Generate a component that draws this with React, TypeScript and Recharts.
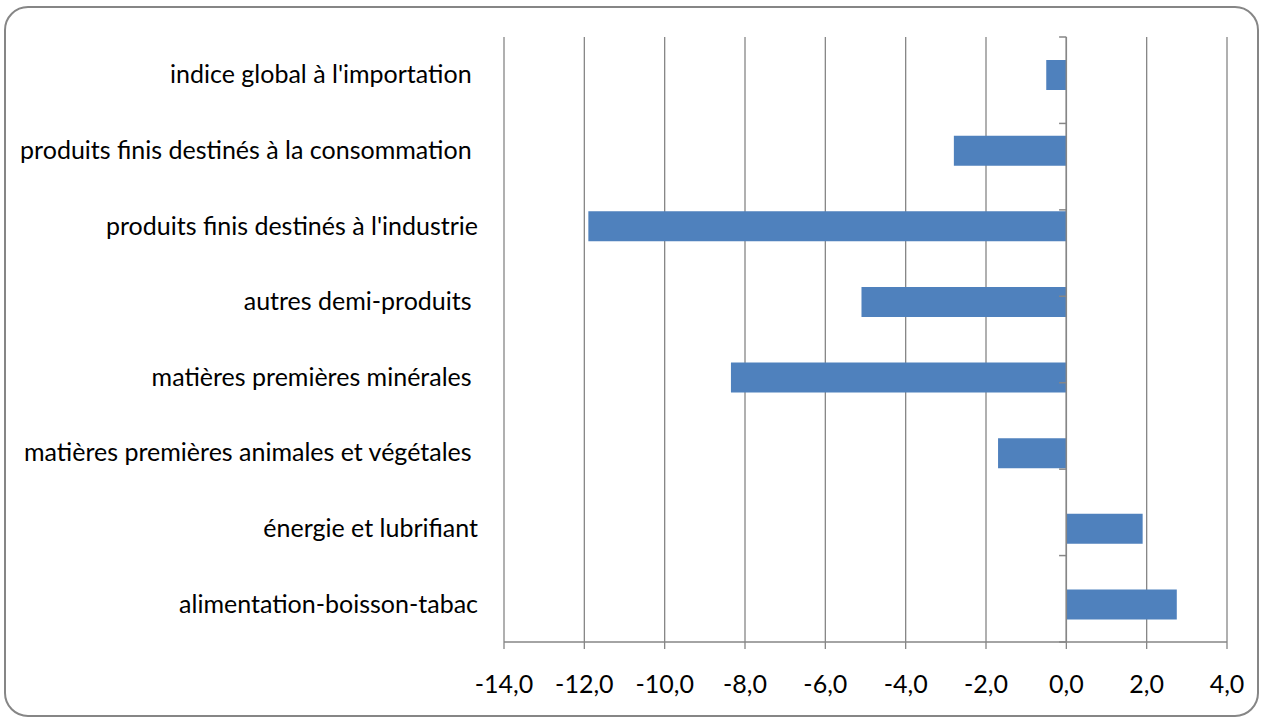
import React from 'react';
import { BarChart, Bar, XAxis, YAxis, CartesianGrid, ReferenceLine } from 'recharts';

const categories = [
  "indice global à l'importation ",
  "produits finis destinés à la consommation ",
  "produits finis destinés à l'industrie",
  "autres demi-produits ",
  "matières premières minérales ",
  "matières premières animales et végétales ",
  "énergie et lubrifiant",
  "alimentation-boisson-tabac",
];

const values = [-0.5, -2.8, -11.9, -5.1, -8.35, -1.7, 1.9, 2.75];

const xTicks = [-14, -12, -10, -8, -6, -4, -2, 0, 2, 4];
const xTickLabels = ['-14,0', '-12,0', '-10,0', '-8,0', '-6,0', '-4,0', '-2,0', '0,0', '2,0', '4,0'];

const data = categories.map((name, i) => ({ name, value: values[i] }));
const boundaries = Array.from({ length: categories.length + 1 }, (_, i) => i);

const GRAY = '#868686';
const FONT = 'Lato, "Open Sans", sans-serif';
const FONT_SIZE = 25;

const YTick = (props: any) => {
  const { x, y, payload } = props;
  return (
    <text x={x} y={y} dy="0.34em" textAnchor="end" fill="#000" fontFamily={FONT} fontSize={FONT_SIZE} style={{ whiteSpace: 'pre' }}>
      {payload.value}
    </text>
  );
};

const XTick = (props: any) => {
  const { x, y, payload } = props;
  const idx = xTicks.indexOf(payload.value);
  return (
    <text x={x} y={y} dy="0.71em" textAnchor="middle" fill="#000" fontFamily={FONT} fontSize={FONT_SIZE}>
      {idx >= 0 ? xTickLabels[idx] : String(payload.value)}
    </text>
  );
};

export default function App() {
  return (
    <div style={{ position: 'absolute', left: 0, top: 0, width: 1261, height: 720, background: '#fff' }}>
      <div
        style={{
          position: 'absolute',
          left: 4,
          top: 6,
          width: 1255,
          height: 711,
          boxSizing: 'border-box',
          border: `2px solid ${GRAY}`,
          borderRadius: 24,
        }}
      />
      <div style={{ position: 'absolute', left: 0, top: 0 }}>
        <BarChart
          width={1261}
          height={720}
          data={data}
          layout="vertical"
          margin={{ top: 37, right: 34, bottom: 0, left: 0 }}
          barCategoryGap={0}
        >
          <CartesianGrid horizontal={false} vertical={true} stroke={GRAY} strokeWidth={1.3} />
          <XAxis
            type="number"
            domain={[-14, 4]}
            ticks={xTicks}
            interval={0}
            height={78}
            axisLine={{ stroke: GRAY, strokeWidth: 1.5 }}
            tickLine={{ stroke: GRAY, strokeWidth: 1.3 }}
            tickSize={7}
            tickMargin={26}
            tick={<XTick />}
          />
          <YAxis
            type="category"
            dataKey="name"
            width={504}
            axisLine={false}
            tickLine={false}
            tickSize={0}
            tickMargin={26}
            interval={0}
            tick={<YTick />}
          />
          <YAxis yAxisId="b" type="number" domain={[0, categories.length]} hide />
          <Bar dataKey="value" fill="#4F81BD" barSize={30} isAnimationActive={false} />
          <ReferenceLine x={0} stroke={GRAY} strokeWidth={1.5} ifOverflow="extendDomain" />
          {boundaries.map((b) => (
            <ReferenceLine
              key={b}
              yAxisId="b"
              segment={[
                { x: -0.18, y: b },
                { x: 0, y: b },
              ]}
              stroke={GRAY}
              strokeWidth={1.5}
            />
          ))}
        </BarChart>
      </div>
    </div>
  );
}
